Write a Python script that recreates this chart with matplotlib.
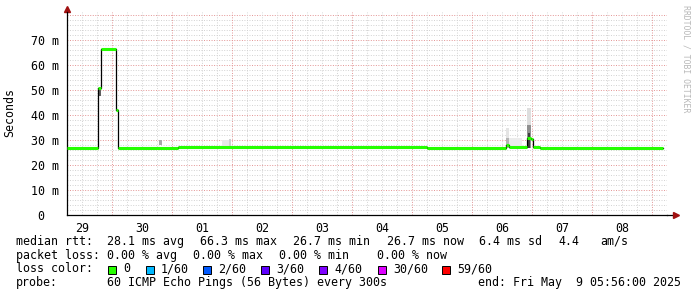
import matplotlib
matplotlib.use("Agg")
import matplotlib.pyplot as plt
from matplotlib.patches import Rectangle
import numpy as np

# time axis in hours since Apr 29 06:00
day_labels = ["29", "30", "01", "02", "03", "04", "05", "06", "07", "08"]

# median rtt steps (hour where the step starts, value in ms)
median_start = [0.0, 12.4, 13.4, 19.6, 20.4, 44.4, 144.0, 175.6, 176.8, 184.0, 185.6, 186.4, 189.2]
median_ms = [26.8, 50.8, 66.3, 42.0, 26.8, 27.3, 26.9, 28.0, 27.1, 31.0, 30.4, 27.4, 26.8]
median_end = 238.4

# smoke bands (start hour, end hour, low ms, high ms, shade)
smoke_start = [12.4, 36.8, 62.0, 64.8, 175.6, 175.6, 176.8, 184.0, 184.0, 184.4]
smoke_end = [13.6, 38.0, 65.6, 65.6, 176.8, 176.8, 182.0, 185.6, 185.6, 185.2]
smoke_lo = [47.5, 28.0, 27.5, 27.5, 27.0, 27.0, 27.0, 27.0, 27.0, 27.0]
smoke_hi = [51.0, 30.0, 30.0, 30.5, 35.0, 31.0, 31.0, 43.0, 36.0, 33.0]
smoke_shade = ["#606060", "#a8a8a8", "#e8e8e8", "#d0d0d0", "#e4e4e4", "#b4b4b4",
               "#ececec", "#dedede", "#909090", "#404040"]

loss_labels = ["0", "1/60", "2/60", "3/60", "4/60", "30/60", "59/60"]
loss_colors = ["#26ff00", "#00b8ff", "#0059ff", "#5e00ff", "#7e00ff", "#dd00ff", "#ff0000"]

W, H = 697, 297
fig = plt.figure(figsize=(W / 100, H / 100), dpi=100)
fig.patch.set_facecolor("white")

def fx(px):
    return px / W

def fy(py):
    return 1 - py / H

ax = fig.add_axes([fx(67), fy(215), fx(600), (215 - 12) / H])
ax.set_xlim(0, 240)
ax.set_ylim(0, 81.2)
ax.set_facecolor("white")

mono = "DejaVu Sans Mono"
fs = 8.4

# grid
dots = (0, (1, 1.6))
for y in np.arange(2, 81, 2):
    if y % 10:
        ax.axhline(y, color="#d2d2d2", lw=0.7, ls=dots, zorder=0)
for y in np.arange(10, 81, 10):
    ax.axhline(y, color="#e39494", lw=0.7, ls=dots, zorder=0)
for x in np.arange(6, 240, 6):
    if (x - 18) % 24:
        ax.axvline(x, color="#d2d2d2", lw=0.7, ls=dots, zorder=0)
for x in np.arange(18, 240, 24):
    ax.axvline(x, color="#e39494", lw=0.7, ls=dots, zorder=0)

# smoke
for s, e, lo, hi, c in zip(smoke_start, smoke_end, smoke_lo, smoke_hi, smoke_shade):
    ax.bar(s, hi - lo, width=e - s, bottom=lo, align="edge", color=c, lw=0, zorder=1)

# median line: black connectors, green segments on top
xs = median_start + [median_end]
ys = median_ms + [median_ms[-1]]
ax.step(xs, ys, where="post", color="black", lw=0.9, zorder=2)
ax.hlines(median_ms, median_start, median_start[1:] + [median_end],
          color=loss_colors[0], lw=2.2, zorder=3)

# axes
for side in ["top", "right"]:
    ax.spines[side].set_visible(False)
ax.spines["left"].set_color("black")
ax.spines["bottom"].set_color("black")
ax.spines["left"].set_linewidth(0.9)
ax.spines["bottom"].set_linewidth(0.9)
ax.plot([240, 243], [0, 0], color="black", lw=0.9, clip_on=False)
ax.plot([0], [81.2 + 1.2], marker="^", color="#a01010", ms=4, clip_on=False)
ax.plot([243.5], [0], marker=">", color="#a01010", ms=4, clip_on=False)

ax.set_yticks(np.arange(0, 71, 10))
ax.set_yticklabels(["0  "] + [f"{v} m" for v in range(10, 71, 10)])
ax.set_xticks(np.arange(6, 240, 24))
ax.set_xticklabels(day_labels)
ax.tick_params(axis="both", length=0, labelsize=fs)
ax.tick_params(axis="y", pad=6)
ax.tick_params(axis="x", pad=5)
for lab in ax.get_xticklabels() + ax.get_yticklabels():
    lab.set_family(mono)

fig.text(fx(10), fy(113), "Seconds", rotation=90, family=mono, fontsize=fs,
         ha="center", va="center")
fig.text(fx(686), fy(5), "RRDTOOL / TOBI OETIKER", rotation=270, family=mono,
         fontsize=5.9, color="#b8b8b8", ha="center", va="top")

# legend rows
rows = [241.5, 255.3, 269, 282.7]
row1 = [(16, "median rtt:"), (107, "28.1 ms avg"), (200, "66.3 ms max"),
        (293, "26.7 ms min"), (387, "26.7 ms now"), (479, "6.4 ms sd"),
        (558, "4.4"), (600, "am/s")]
row2 = [(16, "packet loss:"), (107, "0.00 % avg"), (193, "0.00 % max"),
        (279, "0.00 % min"), (377, "0.00 % now")]
row4 = [(16, "probe:"), (107, "60 ICMP Echo Pings (56 Bytes) every 300s"),
        (478, "end: Fri May  9 05:56:00 2025")]
for r, items in zip([rows[0], rows[1], rows[3]], [row1, row2, row4]):
    for px, t in items:
        fig.text(fx(px), fy(r), t, family=mono, fontsize=fs, va="center", ha="left")

fig.text(fx(16), fy(rows[2]), "loss color:", family=mono, fontsize=fs, va="center")
box_x = [108, 146, 203, 261, 319, 378, 442]
for bx, lab, c in zip(box_x, loss_labels, loss_colors):
    fig.patches.append(Rectangle((fx(bx), fy(rows[2] + 4.5)), fx(8), 8 / H,
                                 transform=fig.transFigure, facecolor=c,
                                 edgecolor="black", lw=0.7))
    fig.text(fx(bx + 15), fy(rows[2]), lab, family=mono, fontsize=fs, va="center")

fig.savefig("out.png", dpi=100)
